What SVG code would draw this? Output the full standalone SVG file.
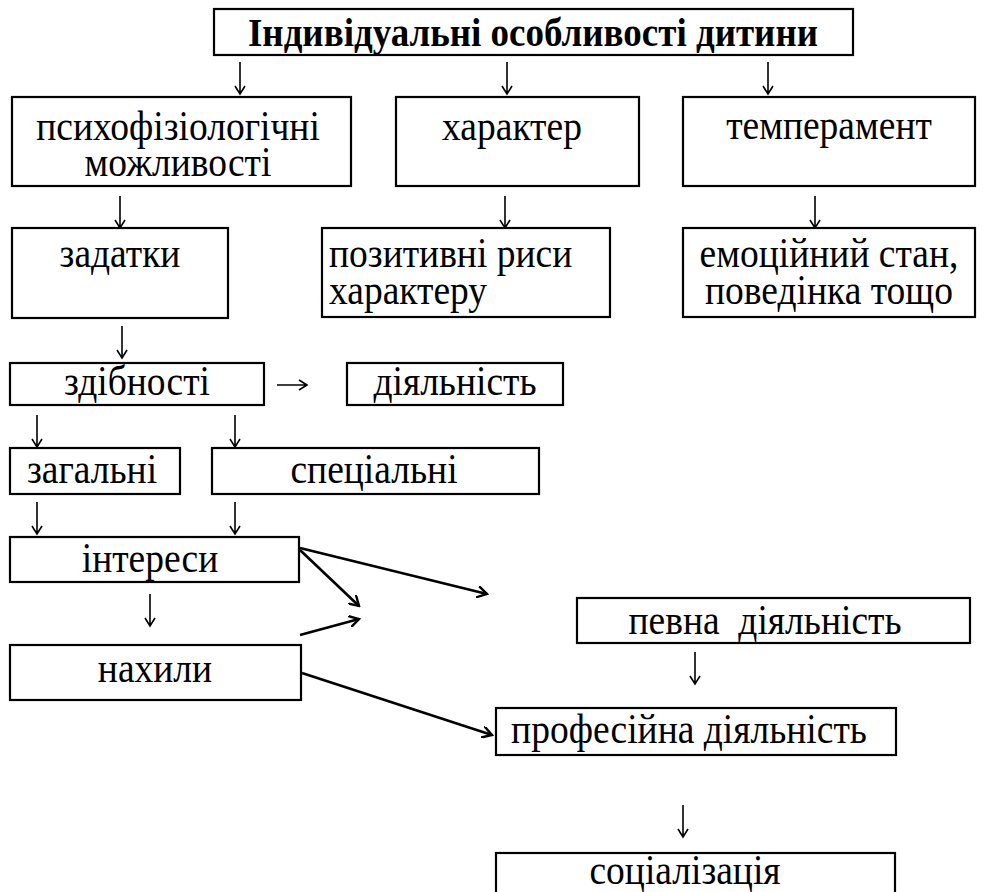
<svg xmlns="http://www.w3.org/2000/svg" width="988" height="892" viewBox="0 0 988 892">
<style>
.box{fill:#fff;stroke:#000;stroke-width:2.2}
.t{font-family:"Liberation Serif","Times New Roman",serif;font-size:37.5px;fill:#000}
.c{text-anchor:middle}
.b{font-weight:bold;font-size:37px}
.ar{fill:none;stroke:#000;stroke-width:1.6}
.ln{fill:none;stroke:#000;stroke-width:2.6}
</style>
<defs>
<marker id="open" markerWidth="12" markerHeight="12" refX="10" refY="6" orient="auto" markerUnits="userSpaceOnUse" viewBox="0 0 12 12">
<path d="M0,0 L10,6 L0,12" fill="none" stroke="#000" stroke-width="2.4"/>
</marker>
</defs>
<rect width="988" height="892" fill="#fff"/>
<g id="connectors">
<path class="ar" d="M240,62V94M235,86L240,94L245,86"/>
<path class="ar" d="M507,62V94M502,86L507,94L512,86"/>
<path class="ar" d="M768,62V94M763,86L768,94L773,86"/>
<path class="ar" d="M120,196V228M115,220L120,228L125,220"/>
<path class="ar" d="M505,196V228M500,220L505,228L510,220"/>
<path class="ar" d="M815,196V228M810,220L815,228L820,220"/>
<path class="ar" d="M122,326V358M117,350L122,358L127,350"/>
<path class="ar" d="M277,385H307M299,380L307,385L299,390"/>
<path class="ar" d="M37,415V447M32,439L37,447L42,439"/>
<path class="ar" d="M235,415V447M230,439L235,447L240,439"/>
<path class="ar" d="M37,502V534M32,526L37,534L42,526"/>
<path class="ar" d="M235,502V534M230,526L235,534L240,526"/>
<path class="ar" d="M150,594V626M145,618L150,626L155,618"/>
<path class="ar" d="M695,652V684M690,676L695,684L700,676"/>
<path class="ar" d="M683,805V837M678,829L683,837L688,829"/>
<line class="ln" x1="300" y1="548" x2="487" y2="594" marker-end="url(#open)"/>
<line class="ln" x1="300" y1="550" x2="359" y2="606" marker-end="url(#open)"/>
<line class="ln" x1="300" y1="635" x2="359" y2="619" marker-end="url(#open)"/>
<line class="ln" x1="302" y1="673" x2="492" y2="735" marker-end="url(#open)"/>
</g>
<g id="title"><rect class="box" x="214" y="9" width="639" height="46"/><text class="t c b" transform="translate(533,46) scale(1,1.1)">Індивідуальні особливості дитини</text></g>
<g id="psych"><rect class="box" x="12" y="97" width="339" height="89"/><text class="t c" transform="translate(178,140) scale(1,1.15)">психофізіологічні</text><text class="t c" transform="translate(178,176) scale(1,1.15)">можливості</text></g>
<g id="character"><rect class="box" x="396" y="97" width="243" height="89"/><text class="t c" transform="translate(512,140) scale(1,1.15)">характер</text></g>
<g id="temperament"><rect class="box" x="683" y="97" width="292" height="89"/><text class="t c" transform="translate(829,139) scale(1,1.15)">темперамент</text></g>
<g id="zadatky"><rect class="box" x="12" y="228" width="216" height="90"/><text class="t c" transform="translate(120,267) scale(1,1.15)">задатки</text></g>
<g id="positive"><rect class="box" x="322" y="228" width="288" height="89"/><text class="t" transform="translate(329,267) scale(1,1.15)">позитивні риси</text><text class="t" transform="translate(329,304) scale(1,1.15)">характеру</text></g>
<g id="emotional"><rect class="box" x="683" y="228" width="292" height="89"/><text class="t c" transform="translate(829,267) scale(1,1.15)">емоційний стан,</text><text class="t c" transform="translate(829,304) scale(1,1.15)">поведінка тощо</text></g>
<g id="abilities"><rect class="box" x="10" y="363" width="254" height="42"/><text class="t c" transform="translate(137,395) scale(1,1.15)">здібності</text></g>
<g id="activity"><rect class="box" x="347" y="363" width="216" height="42"/><text class="t c" transform="translate(455,395) scale(1,1.15)">діяльність</text></g>
<g id="general"><rect class="box" x="10" y="448" width="170" height="46"/><text class="t c" transform="translate(92,483) scale(1,1.15)">загальні</text></g>
<g id="special"><rect class="box" x="212" y="448" width="327" height="46"/><text class="t c" transform="translate(374,483) scale(1,1.15)">спеціальні</text></g>
<g id="interests"><rect class="box" x="10" y="537" width="289" height="45"/><text class="t c" transform="translate(150,572) scale(1,1.15)">інтереси</text></g>
<g id="inclinations"><rect class="box" x="10" y="645" width="291" height="55"/><text class="t c" transform="translate(155,682) scale(1,1.15)">нахили</text></g>
<g id="certain"><rect class="box" x="577" y="598" width="393" height="45"/><text class="t c" transform="translate(765,634) scale(1,1.15)" xml:space="preserve">певна  діяльність</text></g>
<g id="professional"><rect class="box" x="496" y="708" width="400" height="47"/><text class="t c" transform="translate(689,743) scale(1,1.15)">професійна діяльність</text></g>
<g id="socialization"><rect class="box" x="496" y="853" width="399" height="60"/><text class="t c" transform="translate(685,884) scale(1,1.15)">соціалізація</text></g>
</svg>
